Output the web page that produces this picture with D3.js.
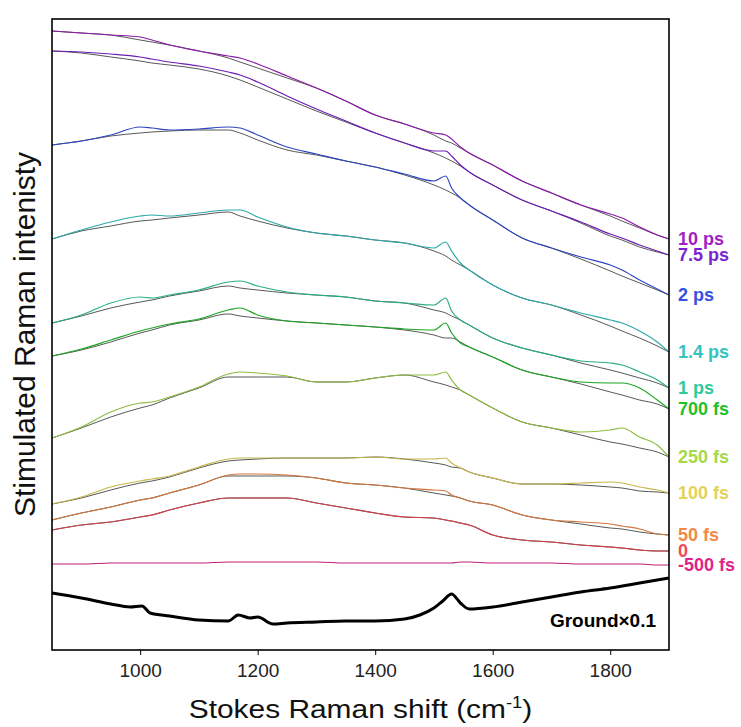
<!DOCTYPE html>
<html>
<head>
<meta charset="utf-8">
<script src="https://cdn.jsdelivr.net/npm/d3@7"></script>
<style>
  body { margin: 0; background: #fff; }
  svg { display: block; }
  text { font-family: "Liberation Sans", Arial, sans-serif; }
</style>
</head>
<body>
<div id="chart"></div>
<script>
// Raman shift axis (cm-1) shared by all transient spectra
const shift = [850, 900, 950, 1000, 1020, 1050, 1100, 1150, 1170, 1200, 1250, 1300, 1350, 1400, 1450,
               1500, 1520, 1530, 1545, 1560, 1600, 1650, 1700, 1750, 1800, 1820, 1850, 1880, 1900];

// measured spectra (sig) and fitted baselines (fit), arbitrary units incl. vertical offset
const sig10ps  = [619, 617, 615, 613, 610, 605, 599, 594, 592, 586, 574, 562, 549, 535, 526, 517, 515, 511, 503, 497, 485, 469, 457, 445, 436, 432, 423, 415, 411];
const fit10ps  = [619, 617, 615, 610, 608, 605, 599, 592, 588, 582, 572, 562, 549, 535, 526, 515, 509, 507, 502, 497, 485, 469, 457, 445, 434, 429, 422, 415, 411];
const sig7p5ps = [599, 598, 596, 593, 591, 588, 584, 578, 575, 568, 554, 541, 529, 517, 507, 499, 499, 494, 485, 478, 465, 450, 439, 428, 416, 412, 405, 399, 395];
const fit7p5ps = [599, 597, 593, 589, 587, 585, 581, 574, 570, 563, 551, 539, 528, 517, 507, 497, 492, 489, 484, 478, 465, 450, 439, 427, 414, 410, 403, 398, 395];
const sig2ps   = [505, 509, 515, 523, 522, 520, 521, 523, 522, 515, 503, 496, 489, 483, 476, 469, 474, 462, 452, 445, 430, 412, 402, 393, 385, 380, 370, 361, 355];
const fit2ps   = [505, 509, 514, 517, 518, 519, 520, 520, 517, 510, 500, 495, 489, 483, 475, 465, 460, 457, 452, 445, 430, 412, 402, 391, 379, 374, 367, 360, 355];
const sig1p4ps = [411, 420, 428, 434, 435, 434, 437, 440, 440, 433, 423, 417, 414, 410, 407, 402, 408, 399, 387, 380, 365, 352, 345, 337, 330, 327, 319, 308, 298];
const fit1p4ps = [411, 419, 424, 429, 430, 432, 435, 438, 434, 429, 422, 417, 414, 410, 407, 399, 394, 390, 385, 380, 365, 352, 345, 335, 324, 319, 312, 304, 298];
const sig1ps   = [327, 335, 347, 353, 352, 355, 360, 368, 369, 364, 358, 355, 353, 349, 347, 345, 352, 339, 330, 325, 312, 302, 295, 289, 287, 285, 278, 270, 262];
const fit1ps   = [327, 334, 342, 348, 350, 354, 359, 364, 362, 360, 357, 355, 353, 349, 347, 340, 337, 334, 330, 325, 312, 302, 295, 287, 280, 277, 272, 267, 262];
const sig700fs = [294, 301, 310, 319, 322, 326, 331, 340, 342, 335, 329, 327, 325, 323, 321, 320, 327, 317, 307, 303, 293, 280, 273, 268, 267, 267, 262, 250, 241];
const fit700fs = [294, 300, 308, 317, 320, 325, 330, 336, 334, 332, 329, 327, 325, 323, 320, 315, 312, 312, 308, 303, 293, 280, 273, 266, 258, 255, 250, 246, 241];
const sig250fs = [212, 223, 238, 247, 248, 253, 263, 276, 278, 277, 274, 268, 268, 272, 275, 275, 278, 270, 260, 255, 242, 228, 222, 218, 220, 222, 213, 205, 193];
const fit250fs = [212, 222, 233, 242, 245, 252, 262, 273, 273, 273, 273, 268, 268, 272, 275, 268, 265, 263, 260, 255, 242, 228, 222, 215, 208, 206, 202, 198, 193];
const sig100fs = [146, 153, 163, 169, 171, 174, 183, 191, 192, 192, 192, 192, 192, 193, 191, 191, 192, 187, 182, 178, 172, 166, 166, 167, 168, 167, 163, 160, 157];
const fit100fs = [146, 152, 160, 167, 169, 173, 182, 189, 190, 191, 192, 192, 192, 193, 191, 187, 185, 183, 182, 178, 172, 166, 166, 165, 163, 162, 159, 158, 157];
const sig50fs  = [130, 137, 143, 150, 152, 157, 165, 175, 176, 176, 175, 172, 167, 165, 162, 160, 159, 155, 152, 149, 145, 135, 130, 128, 126, 124, 121, 116, 115];
const fit50fs  = [130, 137, 143, 150, 152, 157, 165, 174, 174, 174, 174, 172, 167, 165, 162, 157, 155, 154, 152, 149, 145, 135, 130, 126, 122, 121, 118, 116, 115];
const sig0fs   = [120, 125, 128, 133, 135, 140, 147, 152, 152, 152, 152, 147, 142, 137, 133, 132, 130, 129, 127, 125, 115, 110, 108, 105, 103, 102, 100, 99, 99];
const fit0fs   = [120, 125, 128, 133, 135, 140, 147, 152, 152, 152, 152, 147, 142, 137, 133, 132, 130, 129, 127, 125, 115, 110, 108, 105, 103, 102, 100, 99, 99];
const sigM500fs = [86, 86, 87, 87, 87, 87, 87, 88, 88, 88, 88, 88, 87, 87, 87, 87, 87, 87, 88, 88, 87, 87, 87, 86, 86, 86, 86, 85, 85];

const delayLabels = ["10 ps", "7.5 ps", "2 ps", "1.4 ps", "1 ps", "700 fs", "250 fs", "100 fs", "50 fs", "0", "-500 fs"];
const delayColors = ["#a21fc2", "#7d22d0", "#3552df", "#33c3c3", "#2fc99a", "#22c02a",
                     "#a5d94a", "#e3d35a", "#f28a45", "#f04a55", "#e0248a"];

// ground-state spectrum (x0.1)
const groundShift = [850, 900, 950, 983, 1003, 1017, 1050, 1100, 1150, 1167, 1187, 1200, 1226, 1250, 1300, 1350,
                     1400, 1450, 1476, 1500, 1515, 1530, 1545, 1560, 1600, 1650, 1700, 1750, 1800, 1850, 1900];
const groundVal   = [57, 52, 46, 43, 44, 37, 34, 30, 29, 35, 32, 33, 26, 27, 28, 29,
                     29, 31, 35, 42, 49, 56, 47, 41, 43, 48, 53, 58, 62, 67, 72];

const xTicks = [1000, 1200, 1400, 1600, 1800];

const series = [
  [sig10ps, fit10ps], [sig7p5ps, fit7p5ps], [sig2ps, fit2ps], [sig1p4ps, fit1p4ps],
  [sig1ps, fit1ps], [sig700fs, fit700fs], [sig250fs, fit250fs], [sig100fs, fit100fs],
  [sig50fs, fit50fs], [sig0fs, fit0fs], [sigM500fs, null]
].map(([sig, fit], i) => ({ name: delayLabels[i], color: delayColors[i], sig, fit }));

const W = 741, H = 727;
const margin = { top: 19, right: 72, bottom: 77, left: 52 };
const width = W - margin.left - margin.right;
const height = H - margin.top - margin.bottom;

const svg = d3.select("#chart").append("svg")
  .attr("width", W)
  .attr("height", H);

const g = svg.append("g")
  .attr("transform", `translate(${margin.left},${margin.top})`);

const x = d3.scaleLinear().domain([850, 1900]).range([0, width]);
const y = d3.scaleLinear().domain([0, 631]).range([height, 0]);

const line = d3.line()
  .x((d, i) => x(shift[i]))
  .y(d => y(d))
  .curve(d3.curveMonotoneX);

const plot = g.append("g");

series.forEach(s => {
  if (s.fit) {
    plot.append("path")
      .datum(s.fit)
      .attr("fill", "none")
      .attr("stroke", "#444")
      .attr("stroke-width", 0.9)
      .attr("d", line);
  }
  plot.append("path")
    .datum(s.sig)
    .attr("fill", "none")
    .attr("stroke", d3.color(s.color).darker(0.4))
    .attr("stroke-width", 1.2)
    .attr("d", line);
});

// ground state
const groundLine = d3.line()
  .x((d, i) => x(groundShift[i]))
  .y(d => y(d))
  .curve(d3.curveMonotoneX);

plot.append("path")
  .datum(groundVal)
  .attr("fill", "none")
  .attr("stroke", "#000")
  .attr("stroke-width", 3)
  .attr("stroke-linejoin", "round")
  .attr("d", groundLine);

g.append("text")
  .attr("x", width - 13)
  .attr("y", y(23))
  .attr("text-anchor", "end")
  .style("font-size", "19px")
  .style("font-weight", "bold")
  .text("Ground\u00d70.1");

// frame
g.append("rect")
  .attr("width", width)
  .attr("height", height)
  .attr("fill", "none")
  .attr("stroke", "#000")
  .attr("stroke-width", 1.6);

// x axis
const xAxis = g.append("g")
  .attr("transform", `translate(0,${height})`)
  .call(d3.axisBottom(x).tickValues(xTicks).tickFormat(d3.format("d"))
    .tickSizeInner(5).tickSizeOuter(0).tickPadding(9));
xAxis.select(".domain").remove();
xAxis.selectAll("text")
  .attr("fill", "#222")
  .style("font-family", "'Liberation Sans', Arial, sans-serif")
  .style("font-size", "19px");

// delay labels at right end of each trace
g.selectAll(".delay")
  .data(series)
  .enter().append("text")
  .attr("class", "delay")
  .attr("x", width + 9)
  .attr("y", d => y(d.sig[d.sig.length - 1]))
  .attr("dy", "0.36em")
  .attr("fill", d => d.color)
  .style("font-size", "18px")
  .style("font-weight", "bold")
  .text(d => d.name);

// axis titles
const xt = svg.append("text")
  .attr("transform", `translate(${margin.left + width / 2},718) scale(1.15,1)`)
  .attr("text-anchor", "middle")
  .style("font-size", "26px")
  .attr("fill", "#111");
xt.append("tspan").text("Stokes Raman shift (cm");
xt.append("tspan").attr("dy", -10).style("font-size", "16px").text("-1");
xt.append("tspan").attr("dy", 10).text(")");

svg.append("text")
  .attr("transform", `translate(35,${margin.top + height / 2}) rotate(-90)`)
  .attr("text-anchor", "middle")
  .style("font-size", "30px")
  .attr("fill", "#111")
  .text("Stimulated Raman intenisty");
</script>
</body>
</html>
